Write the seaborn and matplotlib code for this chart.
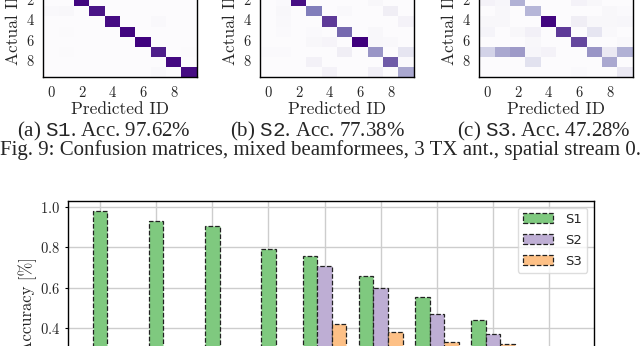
import numpy as np
import pandas as pd
import matplotlib
matplotlib.use("Agg")
import matplotlib.pyplot as plt
import seaborn as sns

# ---------------- data ----------------
ids = list(range(10))

cm_s1 = [
    [0.97, 0.01, 0.00, 0.00, 0.01, 0.00, 0.00, 0.01, 0.00, 0.00],
    [0.01, 0.97, 0.00, 0.01, 0.00, 0.00, 0.00, 0.00, 0.01, 0.00],
    [0.00, 0.00, 0.98, 0.00, 0.00, 0.00, 0.00, 0.00, 0.00, 0.00],
    [0.03, 0.04, 0.00, 0.93, 0.00, 0.00, 0.00, 0.00, 0.00, 0.00],
    [0.00, 0.00, 0.00, 0.00, 0.96, 0.00, 0.00, 0.03, 0.00, 0.00],
    [0.00, 0.01, 0.00, 0.00, 0.00, 0.98, 0.00, 0.00, 0.00, 0.00],
    [0.00, 0.00, 0.00, 0.00, 0.00, 0.00, 0.99, 0.00, 0.00, 0.00],
    [0.00, 0.01, 0.00, 0.00, 0.00, 0.00, 0.00, 0.90, 0.00, 0.01],
    [0.00, 0.00, 0.00, 0.00, 0.00, 0.00, 0.00, 0.00, 0.97, 0.00],
    [0.00, 0.00, 0.00, 0.00, 0.00, 0.00, 0.00, 0.03, 0.00, 0.96],
]

cm_s2 = [
    [0.85, 0.05, 0.00, 0.00, 0.00, 0.03, 0.00, 0.00, 0.02, 0.05],
    [0.05, 0.80, 0.00, 0.05, 0.00, 0.00, 0.03, 0.00, 0.02, 0.05],
    [0.00, 0.02, 0.95, 0.00, 0.00, 0.00, 0.00, 0.04, 0.00, 0.00],
    [0.00, 0.04, 0.00, 0.62, 0.00, 0.03, 0.00, 0.00, 0.12, 0.00],
    [0.00, 0.03, 0.00, 0.00, 0.82, 0.00, 0.00, 0.00, 0.00, 0.08],
    [0.00, 0.02, 0.00, 0.02, 0.00, 0.68, 0.00, 0.04, 0.00, 0.00],
    [0.00, 0.00, 0.00, 0.04, 0.06, 0.00, 1.00, 0.04, 0.03, 0.00],
    [0.02, 0.02, 0.00, 0.00, 0.00, 0.12, 0.00, 0.52, 0.00, 0.18],
    [0.00, 0.00, 0.00, 0.09, 0.00, 0.00, 0.00, 0.00, 0.72, 0.02],
    [0.00, 0.00, 0.00, 0.00, 0.08, 0.00, 0.00, 0.10, 0.00, 0.45],
]

cm_s3 = [
    [0.40, 0.20, 0.05, 0.05, 0.05, 0.05, 0.05, 0.05, 0.05, 0.05],
    [0.10, 0.45, 0.10, 0.05, 0.05, 0.05, 0.05, 0.05, 0.05, 0.05],
    [0.08, 0.05, 0.42, 0.00, 0.00, 0.00, 0.08, 0.04, 0.00, 0.00],
    [0.00, 0.04, 0.00, 0.40, 0.00, 0.00, 0.00, 0.00, 0.04, 0.02],
    [0.04, 0.04, 0.00, 0.00, 0.98, 0.00, 0.12, 0.04, 0.04, 0.05],
    [0.07, 0.00, 0.04, 0.10, 0.00, 0.82, 0.00, 0.18, 0.03, 0.00],
    [0.00, 0.00, 0.00, 0.04, 0.00, 0.00, 0.78, 0.00, 0.00, 0.03],
    [0.28, 0.45, 0.50, 0.05, 0.08, 0.00, 0.00, 0.52, 0.15, 0.42],
    [0.00, 0.00, 0.00, 0.20, 0.00, 0.00, 0.00, 0.00, 0.45, 0.00],
    [0.00, 0.00, 0.00, 0.00, 0.00, 0.00, 0.02, 0.00, 0.00, 0.15],
]

sub_captions = [r"(a) $\mathtt{S1}$. Acc. 97.62%",
                r"(b) $\mathtt{S2}$. Acc. 77.38%",
                r"(c) $\mathtt{S3}$. Acc. 47.28%"]
fig_caption = "Fig. 9: Confusion matrices, mixed beamformees, 3 TX ant., spatial stream 0."

groups = ["1", "2", "3", "4", "5", "6", "7", "8", "9"]
schemes = ["S1", "S2", "S3"]
s1_acc = [0.98, 0.93, 0.903, 0.791, 0.756, 0.656, 0.553, 0.440, 0.29]
s2_acc = [np.nan, np.nan, np.nan, np.nan, 0.705, 0.598, 0.471, 0.372, 0.26]
s3_acc = [np.nan, np.nan, np.nan, np.nan, 0.421, 0.382, 0.331, 0.324, 0.24]
bar_colors = ["#7fc97f", "#beaed4", "#fdc086"]

# ---------------- style ----------------
sns.set_theme(style="whitegrid", rc={
    "axes.edgecolor": "black",
    "grid.color": "#cdcdcd",
    "grid.linewidth": 1.0,
})
plt.rcParams["font.family"] = ["cmr10", "DejaVu Serif"]
plt.rcParams["axes.formatter.use_mathtext"] = True
plt.rcParams["mathtext.fontset"] = "custom"
plt.rcParams["mathtext.rm"] = "Liberation Serif"
plt.rcParams["mathtext.tt"] = "Liberation Mono"

W, H = 640, 346
fig = plt.figure(figsize=(W / 100, H / 100), dpi=100)
fig.patch.set_facecolor("white")

# ---------------- confusion matrices ----------------
hm_lefts = [43.3, 260.3, 479.3]
for left, cm in zip(hm_lefts, [cm_s1, cm_s2, cm_s3]):
    ax = fig.add_axes([left / W, (H - 77) / H, 153.4 / W, 101 / H])
    df = pd.DataFrame(cm, index=ids, columns=ids)
    sns.heatmap(df, ax=ax, cmap="Purples", vmin=0, vmax=1, cbar=False,
                xticklabels=2, yticklabels=2)
    for s in ax.spines.values():
        s.set_visible(True)
        s.set_color("black")
        s.set_linewidth(1.0)
    ax.tick_params(axis="both", length=0, pad=7, labelsize=10.5)
    ax.tick_params(axis="y", labelrotation=0)
    ax.tick_params(axis="x", labelrotation=0)
    ax.set_xlabel("Predicted ID", fontsize=12.5, labelpad=1)
    ax.set_ylabel("Actual ID", fontsize=12.5, labelpad=4)

cap_x = [104, 317, 544]
for x, t in zip(cap_x, sub_captions):
    fig.text(x / W, (H - 131) / H, t, ha="center", va="center",
             fontsize=15, family="Liberation Serif")
fig.text(320 / W, (H - 150) / H, fig_caption, ha="center", va="center",
         fontsize=15, family="Liberation Serif")

# ---------------- bar chart ----------------
acc = {"S1": s1_acc, "S2": s2_acc, "S3": s3_acc}
rows = []
for sch in schemes:
    for g, v in zip(groups, acc[sch]):
        if not np.isnan(v):
            rows.append({"group": g, "scheme": sch, "acc": v})
bars = pd.DataFrame(rows)
single = bars[bars["group"].isin(groups[:4])]
multi = bars[bars["group"].isin(groups[4:])]

axb = fig.add_axes([68 / W, (H - 409) / H, 526 / W, 208 / H])
bar_kw = dict(edgecolor="#222222", linestyle="--", linewidth=0.9)
sns.barplot(data=single, x="group", y="acc", order=groups, color=bar_colors[0],
            saturation=1, width=0.26, ax=axb, legend=False, **bar_kw)
sns.barplot(data=multi, x="group", y="acc", hue="scheme", order=groups,
            hue_order=schemes, palette=bar_colors, saturation=1, width=0.78,
            dodge=True, ax=axb, legend=False, **bar_kw)
axb.set_xlim(-0.57, 8.8)
axb.set_ylim(0, 1.029)
axb.set_yticks([0.0, 0.2, 0.4, 0.6, 0.8, 1.0])
axb.grid(True, axis="both")
axb.set_axisbelow(True)
for s in axb.spines.values():
    s.set_visible(True)
    s.set_color("black")
    s.set_linewidth(1.0)
axb.tick_params(axis="y", left=True, length=2.5, width=0.8, color="black",
                pad=3, labelsize=10.5)
axb.set_ylabel("Accuracy [%]", fontsize=12, labelpad=2)
axb.set_xlabel("")

handles = axb.containers[-3:]
leg = axb.legend(handles, schemes, loc="upper right",
                 prop={"family": "DejaVu Sans", "size": 9.5},
                 handlelength=2.3, handleheight=0.8, labelspacing=0.6,
                 handletextpad=0.9, frameon=True, fancybox=True,
                 framealpha=0.8, edgecolor="#d5d5d5")

fig.savefig("out.png", dpi=100)
